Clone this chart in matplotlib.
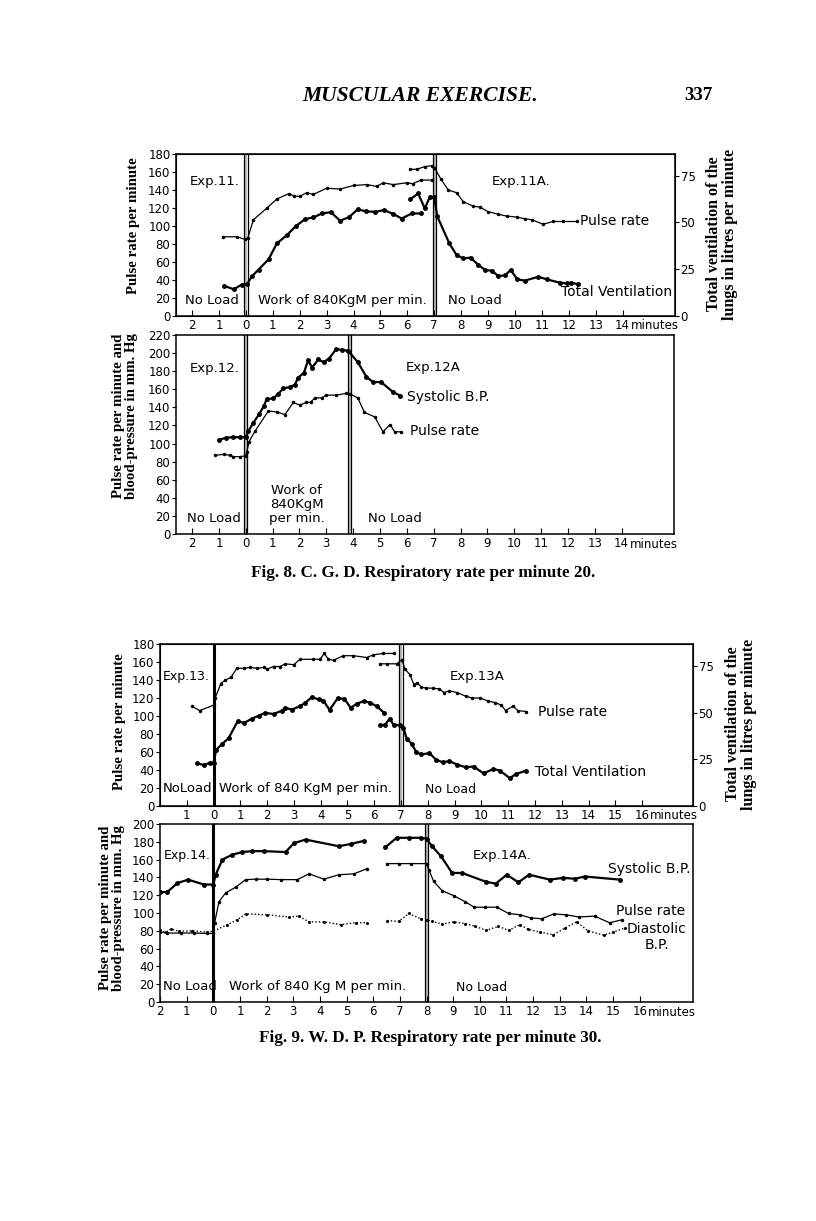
import matplotlib
matplotlib.use('Agg')
import matplotlib.pyplot as plt

plt.rcParams['font.family'] = 'DejaVu Sans'

# ---- Fig. 8, Exp. 11 / 11A (minutes, pulse per min / ventilation l per min)
p11_t = [-0.84, -0.33, -0.02, 0.07, 0.28, 0.78, 1.15, 1.6, 1.8, 2.0, 2.26, 2.5, 3.0, 3.5, 4.0, 4.5, 4.86, 5.1, 5.48, 5.97, 6.2, 6.5, 6.9]
p11_v = [88, 88, 85, 87, 107, 120, 130, 136, 133, 133, 137, 135, 142, 141, 145, 146, 144, 148, 146, 148, 147, 151, 151]
p11a_t = [6.1, 6.35, 6.65, 6.9, 7.0, 7.25, 7.52, 7.83, 8.08, 8.45, 8.7, 9.0, 9.38, 9.69, 10.06, 10.37, 10.62, 11.05, 11.42, 11.79, 12.29]
p11a_v = [163, 163, 166, 167, 165, 152, 140, 137, 127, 122, 121, 116, 113, 111, 110, 108, 107, 102, 105, 105, 105]
v11_t = [-0.8, -0.46, -0.15, 0.04, 0.22, 0.47, 0.84, 1.15, 1.52, 1.85, 2.2, 2.51, 2.82, 3.16, 3.5, 3.84, 4.15, 4.48, 4.8, 5.14, 5.48, 5.79, 6.16, 6.49]
v11_v = [16.1, 14.3, 16.8, 17.0, 21.2, 24.8, 30.3, 38.8, 43.2, 48.0, 51.8, 52.7, 54.8, 55.5, 50.9, 52.9, 57.0, 55.9, 55.7, 56.6, 54.5, 52.1, 54.8, 54.8]
v11a_t = [6.1, 6.4, 6.65, 6.84, 7.0, 7.11, 7.56, 7.83, 8.08, 8.35, 8.64, 8.89, 9.14, 9.38, 9.63, 9.84, 10.09, 10.37, 10.87, 11.18, 11.67, 11.92, 12.1, 12.36]
v11a_v = [62.3, 65.5, 57.5, 63.8, 63.4, 53.4, 38.8, 32.6, 30.8, 31.2, 27.3, 24.6, 24.2, 21.4, 21.7, 24.6, 19.6, 18.9, 21.0, 19.6, 17.8, 17.4, 17.8, 16.9]

# ---- Fig. 8, Exp. 12 / 12A
s12_t = [-1.01, -0.73, -0.46, -0.21, 0, 0.1, 0.28, 0.51, 0.66, 0.78, 1.03, 1.21, 1.4, 1.64, 1.83, 1.95, 2.16, 2.32, 2.47, 2.7, 2.9, 3.1, 3.37, 3.58, 3.81, 4.17, 4.49, 4.73, 5.04, 5.48, 5.75]
s12_v = [104, 106.5, 107, 107, 107, 114, 123, 133, 141, 149, 150, 155, 161, 162.5, 165, 173, 178, 192, 184, 193, 190, 194, 204.5, 203.4, 202.7, 190, 174, 168, 168, 157, 153]
pr12_t = [-1.14, -0.83, -0.58, -0.46, -0.21, 0, 0.04, 0.12, 0.35, 0.84, 1.15, 1.46, 1.77, 2.01, 2.26, 2.41, 2.57, 2.82, 3.0, 3.37, 3.75, 3.87, 4.17, 4.42, 4.8, 5.11, 5.38, 5.54, 5.79]
pr12_v = [87, 88, 87, 85.5, 85.5, 86.5, 91, 102, 114, 136, 135, 132, 145.5, 142.5, 145.5, 145.5, 150.5, 150.5, 153.5, 153.5, 155.5, 155, 150.5, 134.5, 129.5, 113, 121, 113, 113]

# ---- Fig. 9, Exp. 13 / 13A
p13_t = [-0.81, -0.52, 0, 0.06, 0.27, 0.44, 0.65, 0.87, 1.12, 1.37, 1.62, 1.87, 1.99, 2.24, 2.49, 2.67, 2.99, 3.23, 3.73, 3.98, 4.13, 4.29, 4.48, 4.85, 5.22, 5.72, 5.97, 6.34, 6.72]
p13_v = [111, 106, 112, 120, 136, 140, 143, 153, 153, 154, 153, 154, 152, 155, 155, 158, 157, 163, 163, 163, 169.5, 163, 162, 167, 167, 165, 168, 169.5, 169.5]
p13a_t = [6.22, 6.47, 6.84, 7.03, 7.15, 7.33, 7.48, 7.6, 7.76, 7.94, 8.19, 8.43, 8.61, 8.8, 9.1, 9.41, 9.65, 9.96, 10.26, 10.51, 10.75, 10.9, 11.18, 11.36, 11.67]
p13a_v = [158, 158, 158, 162.5, 152, 146, 135, 137, 132, 131, 131, 130, 126, 128, 126, 122, 120, 120, 116.5, 115, 112, 106, 111, 106, 105]
v13_t = [-0.6, -0.37, -0.12, 0, 0.1, 0.31, 0.56, 0.9, 1.14, 1.43, 1.68, 1.93, 2.24, 2.55, 2.67, 2.92, 3.23, 3.42, 3.67, 3.92, 4.1, 4.33, 4.63, 4.88, 5.12, 5.35, 5.62, 5.85, 6.09, 6.37]
v13_v = [22.9, 22.0, 23.3, 23.3, 30.2, 33.2, 36.4, 45.5, 44.6, 46.9, 48.5, 50.0, 49.4, 51.2, 52.7, 51.8, 53.6, 55.4, 58.5, 57.2, 56.6, 51.6, 57.8, 57.6, 52.7, 55.0, 56.3, 55.4, 53.6, 50.0]
v13a_t = [6.22, 6.41, 6.57, 6.72, 6.97, 7.09, 7.21, 7.39, 7.57, 7.76, 8.06, 8.31, 8.55, 8.8, 9.1, 9.41, 9.71, 10.08, 10.45, 10.69, 11.06, 11.3, 11.67]
v13a_v = [43.3, 43.7, 46.9, 43.7, 43.3, 41.9, 36.2, 33.5, 28.9, 27.7, 28.4, 24.8, 23.5, 24.1, 22.2, 20.8, 21.2, 17.5, 19.9, 19.0, 15.0, 17.2, 19.0]

# ---- Fig. 9, Exp. 14 / 14A
s14_t = [-2, -1.73, -1.35, -0.95, -0.35, 0, 0.09, 0.34, 0.71, 1.09, 1.46, 1.9, 2.71, 3.03, 3.46, 4.71, 5.15, 5.65]
s14_v = [123.5, 123.5, 133.5, 137.5, 132, 132, 143, 160, 165.5, 168.5, 169.5, 169.5, 168.5, 178.5, 182.5, 175, 177.5, 181]
s14a_t = [6.46, 6.88, 7.34, 7.78, 8.0, 8.21, 8.55, 8.96, 9.33, 10.24, 10.6, 11.01, 11.45, 11.85, 12.63, 13.13, 13.57, 13.94, 15.25]
s14a_v = [174, 184.5, 184.5, 184.5, 183.5, 175, 163.5, 145, 145, 135, 133, 143, 134.5, 143, 137.5, 139.5, 138.5, 141, 137.5]
pr14_t = [-2, -1.73, -1.23, -0.73, -0.23, 0, 0.05, 0.21, 0.46, 0.84, 1.21, 1.59, 2.03, 2.53, 3.15, 3.59, 4.15, 4.71, 5.28, 5.78]
pr14_v = [78.5, 77.5, 77.5, 77.5, 77, 77, 89, 112.5, 122.5, 129, 137.5, 138, 138, 137.5, 137.5, 144, 138, 143, 144, 150]
pr14a_t = [6.5, 6.96, 7.4, 8.0, 8.09, 8.27, 8.59, 9.02, 9.46, 9.79, 10.2, 10.64, 11.08, 11.51, 11.91, 12.32, 12.78, 13.22, 13.72, 14.31, 14.87, 15.35]
pr14a_v = [155.5, 155.5, 155.5, 155.5, 148.5, 135.5, 125, 119.5, 112.5, 106.5, 106.5, 106.5, 99.5, 98, 94.5, 93.5, 99, 98, 95.5, 96.5, 89, 92.5]
d14_t = [-2, -1.79, -1.58, -1.29, -0.79, -0.23, 0, 0.53, 0.9, 1.21, 2.03, 2.84, 3.21, 3.59, 4.15, 4.78, 5.34, 5.78]
d14_v = [81, 78.5, 82, 79.5, 80, 78.5, 79.5, 87, 92.5, 99, 98, 95.5, 96.5, 90, 90, 87, 89, 89]
d14a_t = [6.53, 6.96, 7.34, 7.78, 8.0, 8.21, 8.59, 9.02, 9.46, 9.83, 10.24, 10.7, 11.08, 11.51, 11.82, 12.26, 12.76, 13.19, 13.63, 14.06, 14.65, 15.0, 15.43]
d14a_v = [91.5, 90.5, 99.5, 93.5, 92.5, 90.5, 87.5, 90, 88, 85, 80.5, 85, 80.5, 87, 81.5, 78.5, 75.5, 83, 90, 80, 75, 78.5, 83]

W, H = 816, 1221
fig = plt.figure(figsize=(W / 100, H / 100), dpi=100)
fig.patch.set_facecolor('white')

TXT = dict(fontsize=9.5, color='black')
SERIF = 'Liberation Serif'


def box(l, t, r, b):
    return fig.add_axes([l / W, 1 - b / H, (r - l) / W, (b - t) / H])


def setup(ax, xlim, ymax, ystep, xticks, last_label):
    ax.set_xlim(*xlim)
    ax.set_ylim(0, ymax)
    ax.set_yticks(range(0, ymax + 1, ystep))
    ax.set_xticks(xticks)
    ax.set_xticklabels([str(abs(t)) for t in xticks])
    ax.tick_params(axis='x', direction='in', length=4, labelsize=8.5, pad=2)
    ax.tick_params(axis='y', direction='out', length=3, labelsize=8.5, pad=1)
    for s in ax.spines.values():
        s.set_linewidth(1.1)
    ax.text(last_label + 0.3, -0.02, 'minutes', transform=ax.get_xaxis_transform(),
            ha='left', va='top', fontsize=8.5)


def divider(ax, x, double=True):
    if double:
        ax.axvspan(x - 0.05, x + 0.05, color='0.75', lw=0)
        ax.axvline(x - 0.06, color='black', lw=0.9)
        ax.axvline(x + 0.06, color='black', lw=0.9)
    else:
        ax.axvline(x, color='black', lw=2.2)


def thin(ax, t, v, **kw):
    ax.plot(t, v, color='black', lw=0.9, marker='o', ms=1.5, **kw)


def thick(ax, t, v, **kw):
    ax.plot(t, v, color='black', lw=1.6, marker='o', ms=2.5, **kw)


def twin(ax, top):
    ax2 = ax.twinx()
    ax2.set_ylim(0, top)
    ax2.set_yticks([0, 25, 50, 75])
    ax2.tick_params(axis='y', direction='out', length=3, labelsize=8.5, pad=1)
    return ax2


# ---------------- Panel 1
ax1 = box(176, 154, 675, 316)
setup(ax1, (-2.6, 15.95), 180, 20, list(range(-2, 15)), 14)
divider(ax1, 0)
divider(ax1, 7)
thin(ax1, p11_t, p11_v)
thin(ax1, p11a_t, p11a_v)
r1 = twin(ax1, 86.6)
thick(r1, v11_t, v11_v)
thick(r1, v11a_t, v11a_v)
ax1.text(-2.1, 145, 'Exp.11.', **TXT)
ax1.text(9.15, 145, 'Exp.11A.', **TXT)
ax1.text(12.4, 106, 'Pulse rate', fontsize=10, va='center')
ax1.text(11.7, 27, 'Total Ventilation', fontsize=10, va='center')
ax1.text(-2.25, 17, 'No Load', va='center', **TXT)
ax1.text(0.45, 17, 'Work of 840KgM per min.', va='center', **TXT)
ax1.text(7.5, 17, 'No Load', va='center', **TXT)

# ---------------- Panel 2
ax2 = box(176, 335, 674, 534)
setup(ax2, (-2.6, 15.95), 220, 20, list(range(-2, 15)), 14)
divider(ax2, 0)
divider(ax2, 3.87)
thick(ax2, s12_t, s12_v)
thin(ax2, pr12_t, pr12_v)
ax2.text(-2.1, 183, 'Exp.12.', va='center', **TXT)
ax2.text(5.95, 184, 'Exp.12A', va='center', **TXT)
ax2.text(6.0, 152, 'Systolic B.P.', fontsize=10, va='center')
ax2.text(6.1, 114, 'Pulse rate', fontsize=10, va='center')
ax2.text(-2.2, 17.5, 'No Load', va='center', **TXT)
ax2.text(1.9, 33, 'Work of\n840KgM\nper min.', ha='center', va='center', linespacing=1.1, **TXT)
ax2.text(4.55, 17.5, 'No Load', va='center', **TXT)

# ---------------- Panel 3
ax3 = box(160, 644, 693, 806)
setup(ax3, (-2.0, 17.9), 180, 20, list(range(-1, 17)), 16)
divider(ax3, 0, double=False)
divider(ax3, 7)
thin(ax3, p13_t, p13_v)
thin(ax3, p13a_t, p13a_v)
r3 = twin(ax3, 87)
thick(r3, v13_t, v13_v)
thick(r3, v13a_t, v13a_v)
ax3.text(-1.88, 144, 'Exp.13.', va='center', fontsize=9)
ax3.text(8.8, 144, 'Exp.13A', va='center', **TXT)
ax3.text(12.1, 104, 'Pulse rate', fontsize=10, va='center')
ax3.text(12.0, 38, 'Total Ventilation', fontsize=10, va='center')
ax3.text(-1.9, 19, 'NoLoad', va='center', **TXT)
ax3.text(0.2, 19, 'Work of 840 KgM per min.', va='center', **TXT)
ax3.text(7.9, 18, 'No Load', va='center', fontsize=9)

# ---------------- Panel 4
ax4 = box(160, 824, 693, 1002)
setup(ax4, (-2.0, 18.0), 200, 20, list(range(-2, 17)), 16)
divider(ax4, 0, double=False)
divider(ax4, 8)
thick(ax4, s14_t, s14_v)
thick(ax4, s14a_t, s14a_v)
thin(ax4, pr14_t, pr14_v)
thin(ax4, pr14a_t, pr14a_v)
ax4.plot(d14_t, d14_v, color='black', lw=1.0, ls=(0, (1, 1.5)), marker='o', ms=1.2)
ax4.plot(d14a_t, d14a_v, color='black', lw=1.0, ls=(0, (1, 1.5)), marker='o', ms=1.2)
ax4.text(-1.85, 165, 'Exp.14.', va='center', fontsize=9)
ax4.text(9.75, 165, 'Exp.14A.', va='center', **TXT)
ax4.text(14.8, 150, 'Systolic B.P.', fontsize=10, va='center')
ax4.text(15.1, 102, 'Pulse rate', fontsize=10, va='center')
ax4.text(15.5, 82, 'Diastolic', fontsize=10, va='center')
ax4.text(16.2, 64, 'B.P.', fontsize=10, va='center')
ax4.text(-1.9, 17, 'No Load', va='center', **TXT)
ax4.text(0.6, 17, 'Work of 840 Kg M per min.', va='center', **TXT)
ax4.text(9.1, 16, 'No Load', va='center', fontsize=9)

# ---------------- Axis titles
lab = dict(rotation=90, ha='center', va='center', family=SERIF, fontweight='bold', fontsize=10.7)
fig.text(133 / W, 1 - 226 / H, 'Pulse rate per minute', **lab)
fig.text(125 / W, 1 - 416 / H, 'Pulse rate per minute and\nblood-pressure in mm. Hg', linespacing=0.95, **lab)
fig.text(119 / W, 1 - 722 / H, 'Pulse rate per minute', **lab)
fig.text(112 / W, 1 - 908 / H, 'Pulse rate per minute and\nblood-pressure in mm. Hg', linespacing=0.95, **lab)
rlab = dict(lab, fontsize=11.5)
fig.text(722 / W, 1 - 234 / H, 'Total ventilation of the\nlungs in litres per minute', linespacing=0.95, **rlab)
fig.text(741 / W, 1 - 724 / H, 'Total ventilation of the\nlungs in litres per minute', linespacing=0.95, **rlab)

# ---------------- Page header and captions
fig.text(420 / W, 1 - 96 / H, 'MUSCULAR EXERCISE.', ha='center', va='center',
         family=SERIF, style='italic', fontweight='bold', fontsize=15.5)
fig.text(698 / W, 1 - 96 / H, '337', ha='center', va='center', family=SERIF,
         fontweight='bold', fontsize=13.5)
fig.text(423 / W, 1 - 573 / H, 'Fig. 8. C. G. D. Respiratory rate per minute 20.',
         ha='center', va='center', family=SERIF, fontweight='bold', fontsize=12.3)
fig.text(430 / W, 1 - 1038 / H, 'Fig. 9. W. D. P. Respiratory rate per minute 30.',
         ha='center', va='center', family=SERIF, fontweight='bold', fontsize=12.3)

plt.savefig('out.png', dpi=100)
